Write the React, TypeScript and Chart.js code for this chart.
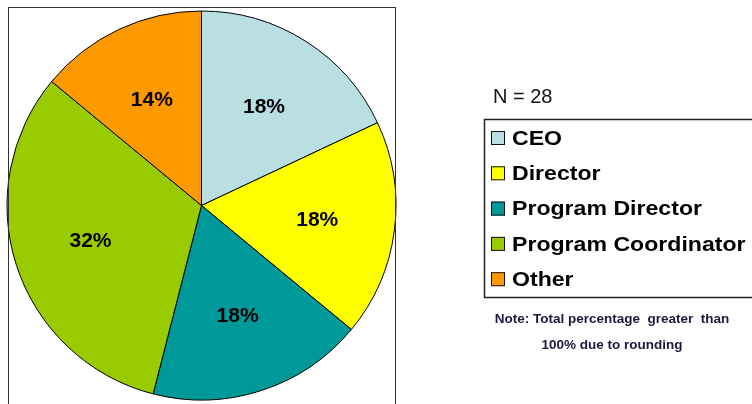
import React, { useEffect, useRef } from "react";
import { Chart, registerables } from "chart.js";

Chart.register(...registerables);

const categories = ["CEO", "Director", "Program Director", "Program Coordinator", "Other"];
const percentValues = [18, 18, 18, 32, 14];
const sliceColors = ["#B9DFE3", "#FFFF00", "#009999", "#99CC00", "#FF9900"];
const sampleLabel = "N = 28";
const noteLines = ["Note: Total percentage  greater  than", "100% due to rounding"];

const decorPlugin = {
  id: "decor",
  afterDatasetsDraw(chart: any) {
    const ctx = chart.ctx;
    const meta = chart.getDatasetMeta(0);
    ctx.save();
    ctx.strokeStyle = "#333";
    ctx.lineWidth = 1;
    ctx.strokeRect(8.5, 7.5, 387, 440);
    ctx.fillStyle = "#000";
    ctx.font = "bold 21px 'Liberation Sans', Arial, sans-serif";
    ctx.textAlign = "center";
    ctx.textBaseline = "middle";
    meta.data.forEach((arc: any, i: number) => {
      const p = arc.getProps(["x", "y", "startAngle", "endAngle", "outerRadius"], true);
      const mid = (p.startAngle + p.endAngle) / 2;
      const r = p.outerRadius * 0.6;
      ctx.fillText(percentValues[i] + "%", p.x + Math.cos(mid) * r, p.y + Math.sin(mid) * r);
    });
    ctx.restore();
  },
  afterDraw(chart: any) {
    const ctx = chart.ctx;
    ctx.save();
    ctx.fillStyle = "#111";
    ctx.font = "20px 'Liberation Sans', Arial, sans-serif";
    ctx.textAlign = "left";
    ctx.textBaseline = "middle";
    ctx.fillText(sampleLabel, 493, 97);

    const boxLeft = 484.5;
    const boxTop = 119.5;
    const boxBottom = 297.5;
    ctx.strokeStyle = "#222";
    ctx.lineWidth = 1.5;
    ctx.strokeRect(boxLeft, boxTop, 300, boxBottom - boxTop);

    const rowStart = 138;
    const rowGap = 35.3;
    categories.forEach((name, i) => {
      const cy = rowStart + i * rowGap;
      ctx.fillStyle = sliceColors[i];
      ctx.fillRect(491, cy - 7, 14, 14);
      ctx.strokeStyle = "#111";
      ctx.lineWidth = 1;
      ctx.strokeRect(491.5, cy - 6.5, 13, 13);
      ctx.save();
      ctx.translate(512, cy);
      ctx.scale(1.1, 1);
      ctx.fillStyle = "#000";
      ctx.font = "bold 21px 'Liberation Sans', Arial, sans-serif";
      ctx.textAlign = "left";
      ctx.textBaseline = "middle";
      ctx.fillText(name, 0, 1);
      ctx.restore();
    });

    ctx.fillStyle = "#1a1a40";
    ctx.font = "bold 13.5px 'Liberation Sans', Arial, sans-serif";
    ctx.textAlign = "center";
    ctx.textBaseline = "middle";
    ctx.fillText(noteLines[0], 612, 319);
    ctx.fillText(noteLines[1], 612, 345);
    ctx.restore();
  },
};

export default function App() {
  const canvasRef = useRef<HTMLCanvasElement>(null);

  useEffect(() => {
    if (!canvasRef.current) return;
    const chart = new Chart(canvasRef.current, {
      type: "pie",
      data: {
        labels: categories,
        datasets: [
          {
            data: percentValues,
            backgroundColor: sliceColors,
            borderColor: "#000",
            borderWidth: 1,
          },
        ],
      },
      options: {
        responsive: false,
        animation: false,
        devicePixelRatio: 1,
        layout: { padding: { left: 6.5, top: 10.5, right: 355.5, bottom: 3.5 } },
        plugins: {
          legend: { display: false },
          tooltip: { enabled: false },
        },
      },
      plugins: [decorPlugin],
    });
    return () => chart.destroy();
  }, []);

  return (
    <div style={{ position: "fixed", left: 0, top: 0, width: 752, height: 404, background: "#fff" }}>
      <canvas ref={canvasRef} width={752} height={404} style={{ width: 752, height: 404 }} />
    </div>
  );
}
